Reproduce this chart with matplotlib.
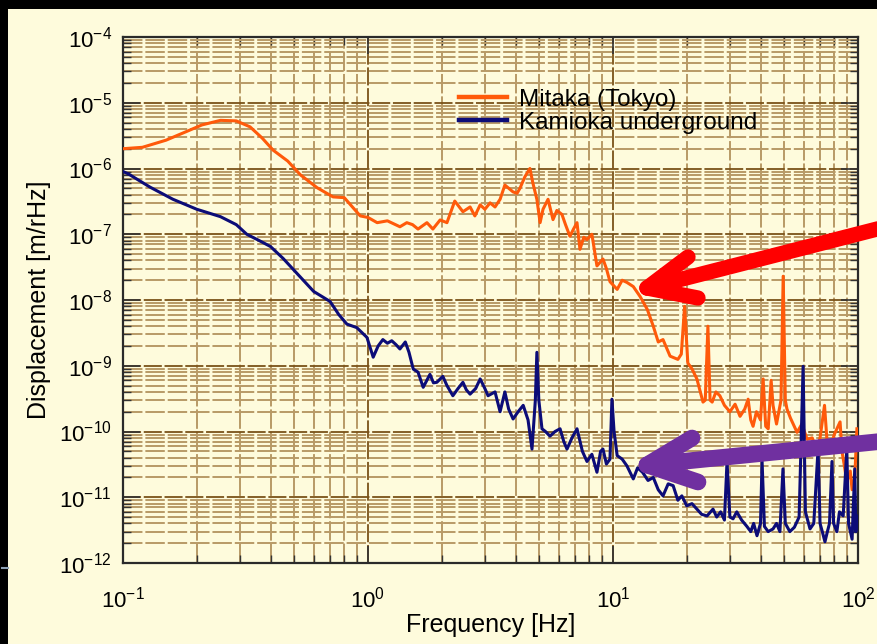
import numpy as np
import matplotlib
matplotlib.use("Agg")
import matplotlib.pyplot as plt
from matplotlib.lines import Line2D
from matplotlib.patches import Rectangle

plt.rcParams['font.family'] = ['Liberation Sans', 'DejaVu Sans']
plt.rcParams['mathtext.fontset'] = 'custom'
plt.rcParams['mathtext.rm'] = 'Liberation Sans'
plt.rcParams['mathtext.default'] = 'regular'

# Mitaka (Tokyo) - frequency [Hz], displacement [m/rHz]
mitaka_f = [0.10, 0.12, 0.15, 0.18, 0.21, 0.25, 0.29, 0.33, 0.37, 0.41, 0.47, 0.53,
            0.62, 0.72, 0.80, 0.93, 1.0, 1.09, 1.2, 1.35, 1.44, 1.52, 1.60, 1.74,
            1.84, 1.97, 2.10, 2.26, 2.44, 2.61, 2.73, 2.87, 3.0, 3.15, 3.3, 3.46,
            3.62, 3.91, 4.06, 4.17, 4.37, 4.58, 4.71, 4.89, 5.04, 5.18, 5.43, 5.69,
            5.9, 6.19, 6.4, 6.67, 6.9, 7.13, 7.33, 7.6, 7.83, 8.2, 8.6, 9.1, 9.4,
            9.72, 10.4, 10.9, 11.4, 12.1, 12.9, 13.8, 14.6, 15.3, 16.0, 17.1, 18.4,
            19.0, 19.6, 20.2, 21.0, 22.0, 23.3, 23.8, 24.4, 24.9, 25.4, 26.3, 27.3,
            28.5, 30.0, 31.5, 33.0, 34.5, 35.6, 36.5, 37.3, 38.5, 40.0, 41.0, 42.0,
            43.0, 44.2, 45.0, 46.5, 48.5, 49.5, 50.5, 51.3, 53.0, 56.4, 59.0, 62.0,
            65.0, 68.0, 70.0, 73.0, 75.0, 77.0, 80.0, 84.5, 86.0, 88.0, 90.0, 93.0,
            94.6, 97.0, 99.0]
mitaka_d = [2.0e-6, 2.1e-6, 2.7e-6, 3.6e-6, 4.6e-6, 5.4e-6, 5.3e-6, 4.3e-6, 2.9e-6,
            1.9e-6, 1.3e-6, 8.0e-7, 5.1e-7, 3.7e-7, 3.6e-7, 1.9e-7, 1.8e-7, 1.5e-7,
            1.6e-7, 1.3e-7, 1.5e-7, 1.4e-7, 1.2e-7, 1.5e-7, 1.2e-7, 1.65e-7, 1.5e-7,
            3.2e-7, 2.2e-7, 2.6e-7, 1.9e-7, 2.8e-7, 2.4e-7, 3.0e-7, 2.6e-7, 3.4e-7,
            5.6e-7, 4.4e-7, 4.2e-7, 5.0e-7, 7.5e-7, 1.0e-6, 6.0e-7, 3.4e-7, 1.5e-7,
            2.4e-7, 3.4e-7, 1.67e-7, 2.3e-7, 2.0e-7, 1.4e-7, 9.3e-8, 1.2e-7, 1.5e-7,
            5.9e-8, 9.0e-8, 8.3e-8, 1.0e-7, 3.3e-8, 4.2e-8, 3.0e-8, 1.9e-8, 1.45e-8,
            2.0e-8, 1.85e-8, 1.6e-8, 1.13e-8, 7.2e-9, 4.0e-9, 2.3e-9, 2.5e-9, 1.4e-9,
            1.25e-9, 1.5e-9, 8.0e-9, 1.1e-9, 9.0e-10, 6.3e-10, 2.8e-10, 3.0e-10,
            4.0e-9, 3.0e-10, 2.8e-10, 4.0e-10, 3.5e-10, 2.5e-10, 2.0e-10, 2.6e-10,
            1.7e-10, 2.2e-10, 3.1e-10, 1.5e-10, 1.2e-10, 2.0e-10, 1.5e-10, 6.3e-10,
            1.2e-10, 1.1e-10, 6.0e-10, 2.5e-10, 1.3e-10, 3.0e-10, 2.3e-8, 3.0e-10,
            2.2e-10, 1.6e-10, 9.7e-11, 1.3e-10, 7.6e-11, 8.0e-11, 5.4e-11, 8.0e-11,
            2.5e-10, 6.0e-11, 5.4e-11, 9.0e-11, 1.4e-10, 5.0e-11, 3.0e-11, 1.7e-11,
            2.5e-11, 1.3e-11, 2.0e-11, 1.1e-10]

# Kamioka underground
kamioka_f = [0.10, 0.105, 0.129, 0.16, 0.20, 0.25, 0.29, 0.32, 0.36, 0.40, 0.45, 0.51,
             0.60, 0.70, 0.76, 0.82, 0.90, 0.99, 1.05, 1.10, 1.15, 1.20, 1.25, 1.30,
             1.35, 1.42, 1.47, 1.53, 1.60, 1.68, 1.79, 1.85, 1.91, 2.02, 2.10, 2.22,
             2.33, 2.44, 2.52, 2.61, 2.75, 2.87, 3.0, 3.09, 3.3, 3.46, 3.62, 3.75,
             3.91, 4.1, 4.3, 4.5, 4.67, 4.82, 4.89, 4.98, 5.13, 5.3, 5.53, 5.8, 6.08,
             6.3, 6.49, 6.8, 7.13, 7.5, 7.83, 8.2, 8.6, 8.9, 9.1, 9.4, 9.72, 9.9,
             10.1, 10.4, 10.9, 11.4, 12.1, 12.6, 13.2, 13.9, 14.6, 15.3, 16.0, 16.8,
             17.6, 18.4, 19.1, 20.0, 21.0, 22.0, 23.0, 24.2, 25.6, 26.5, 27.5, 28.5,
             29.2, 30.0, 30.9, 32.0, 33.5, 35.2, 36.5, 37.5, 38.7, 40.0, 40.6, 41.5,
             43.0, 45.0, 46.5, 48.0, 49.4, 50.5, 52.7, 55.0, 57.5, 59.7, 61.0, 63.7,
             66.0, 68.7, 70.0, 71.5, 73.3, 75.0, 76.5, 78.3, 79.5, 82.0, 84.0, 87.0,
             90.0, 91.5, 94.6, 96.0, 97.0, 98.0, 99.0]
kamioka_d = [9.0e-7, 8.3e-7, 5.2e-7, 3.4e-7, 2.4e-7, 1.85e-7, 1.4e-7, 1.0e-7, 8.0e-8,
             6.5e-8, 4.3e-8, 2.6e-8, 1.35e-8, 9.5e-9, 6.0e-9, 4.3e-9, 3.8e-9, 2.7e-9,
             1.35e-9, 2.0e-9, 2.5e-9, 2.2e-9, 2.4e-9, 2.1e-9, 1.8e-9, 2.3e-9, 1.6e-9,
             8.9e-10, 8.0e-10, 4.7e-10, 7.4e-10, 5.5e-10, 5.6e-10, 6.9e-10, 5.0e-10,
             3.5e-10, 4.5e-10, 5.6e-10, 4.3e-10, 3.7e-10, 4.5e-10, 6.3e-10, 4.5e-10,
             3.5e-10, 4.0e-10, 2.0e-10, 4.0e-10, 2.2e-10, 1.55e-10, 2.0e-10, 2.5e-10,
             1.5e-10, 5.4e-11, 3.0e-10, 1.6e-9, 3.0e-10, 1.1e-10, 1.0e-10, 8.5e-11,
             1.0e-10, 1.1e-10, 7.0e-11, 5.4e-11, 8.0e-11, 1.1e-10, 5.0e-11, 3.5e-11,
             4.5e-11, 2.4e-11, 5.0e-11, 5.4e-11, 3.2e-11, 3.8e-11, 3.1e-10, 1.0e-10,
             4.3e-11, 3.8e-11, 3.0e-11, 1.9e-11, 2.8e-11, 2.4e-11, 1.8e-11, 2.0e-11,
             1.3e-11, 1.05e-11, 1.6e-11, 1.5e-11, 9.0e-12, 1.05e-11, 7.4e-12, 8.0e-12,
             6.6e-12, 5.5e-12, 5.2e-12, 6.6e-12, 5.0e-12, 6.0e-12, 4.5e-12, 3.5e-11,
             5.0e-12, 4.7e-12, 6.0e-12, 4.5e-12, 3.6e-12, 3.0e-12, 4.0e-12, 2.6e-12,
             4.0e-12, 3.5e-11, 3.6e-12, 3.0e-12, 3.3e-12, 4.0e-12, 3.0e-12, 2.7e-11,
             4.0e-12, 3.0e-12, 3.5e-12, 5.0e-12, 9.8e-10, 6.0e-12, 3.3e-12, 4.0e-12,
             5.4e-11, 4.0e-12, 3.0e-12, 2.1e-12, 3.0e-12, 4.0e-12, 3.5e-11, 4.0e-12,
             3.0e-12, 6.0e-12, 5.2e-12, 5.4e-11, 4.0e-12, 2.3e-12, 1.0e-11, 2.7e-11,
             3.0e-12, 5.2e-12]

labels = ['Mitaka (Tokyo)', 'Kamioka underground']
colors = ['#ff5a0a', '#0c0c78']

W, H = 878, 644
fig = plt.figure(figsize=(W / 100, H / 100), dpi=100, facecolor='black')
cream = '#fefbdc'
fig.add_artist(Rectangle((8 / W, 0), 1, 1 - 9 / H, transform=fig.transFigure,
                         facecolor=cream, edgecolor='none', zorder=0))
fig.add_artist(Line2D([2 / W, 8 / W], [1 - 568 / H, 1 - 568 / H], transform=fig.transFigure,
                      color='#8da0b4', lw=1.5))

ax = fig.add_axes([123 / W, 1 - 563 / H, 735 / W, 526 / H])
ax.set_facecolor(cream)
ax.set_xscale('log')
ax.set_yscale('log')
ax.set_xlim(0.1, 100)
ax.set_ylim(1e-12, 1e-4)

ax.plot(mitaka_f, mitaka_d, color=colors[0], lw=2.2, label=labels[0], zorder=3)
ax.plot(kamioka_f, kamioka_d, color=colors[1], lw=2.2, label=labels[1], zorder=3)

ax.yaxis.set_major_locator(matplotlib.ticker.LogLocator(base=10, numticks=20))
ax.yaxis.set_minor_locator(matplotlib.ticker.LogLocator(base=10, subs=np.arange(2, 10), numticks=20))
ax.grid(which='minor', color='#b89a66', lw=1.4, dashes=(10, 1.5), zorder=1)
ax.grid(which='major', color='#7a5218', lw=1.3, dashes=(10, 1.5), zorder=1)
ax.set_axisbelow(True)

ax.tick_params(which='major', direction='in', length=12, width=1.2, color='#333333',
               top=True, right=True, labelsize=16)
ax.tick_params(which='minor', direction='in', length=6, width=1.0, color='#333333',
               top=True, right=True)
ax.tick_params(axis='x', which='major', pad=17)
ax.tick_params(axis='y', which='major', pad=8)
for s in ax.spines.values():
    s.set_color('#2a2a2a')
    s.set_linewidth(1.6)

ax.set_xlabel('Frequency [Hz]', fontsize=18, labelpad=0)
ax.set_ylabel('Displacement [m/rHz]', fontsize=18, labelpad=6)

leg = ax.legend(loc='upper left', bbox_to_anchor=(0.44, 0.925), frameon=False,
                fontsize=17.5, handlelength=2.0, handletextpad=0.5, labelspacing=0.05,
                borderpad=0)
for ln in leg.get_lines():
    ln.set_linewidth(3.2)


def px(x, y):
    return x / W, 1 - y / H


def arrow(tip, tail, arm1, arm2, color, lw):
    for end in (tail, arm1, arm2):
        (x0, y0), (x1, y1) = px(*tip), px(*end)
        fig.add_artist(Line2D([x0, x1], [y0, y1], transform=fig.transFigure, color=color,
                              lw=lw, solid_capstyle='round', zorder=10))


arrow((647, 288), (885, 227), (688, 257), (698, 298), '#ff0000', 11)
arrow((647, 465), (885, 441), (692, 438), (698, 482), '#7030a0', 12)

fig.savefig('out.png', dpi=100, facecolor='black')
